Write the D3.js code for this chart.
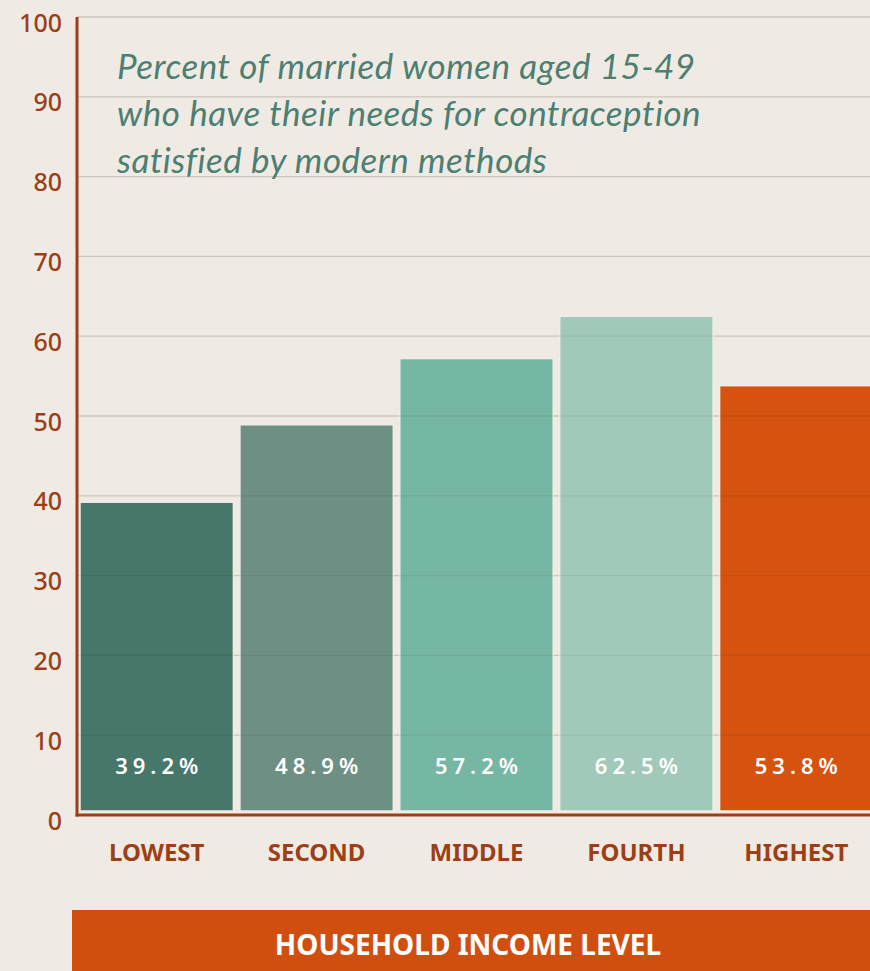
<!DOCTYPE html>
<html>
<head>
<meta charset="utf-8">
<script src="https://cdn.jsdelivr.net/npm/d3@7"></script>
<style>
  html, body { margin: 0; padding: 0; background: #eeeae3; }
  svg { display: block; }
</style>
</head>
<body>
<div id="chart"></div>
<script>
// chart data
var categories = ['LOWEST', 'SECOND', 'MIDDLE', 'FOURTH', 'HIGHEST'];
var values = [39.2, 48.9, 57.2, 62.5, 53.8];
var barColors = ['#46776a', '#6e8f84', '#76b6a4', '#a1c9ba', '#d5520f'];
var yTicks = [0, 10, 20, 30, 40, 50, 60, 70, 80, 90, 100];
var titleLines = ['Percent of married women aged 15-49',
                  'who have their needs for contraception',
                  'satisfied by modern methods'];
var axisTitle = 'HOUSEHOLD INCOME LEVEL';

var width = 870, height = 971;
var brown = '#9c3f17';

var svg = d3.select('#chart').append('svg')
  .attr('width', width)
  .attr('height', height);

svg.append('rect')
  .attr('width', width).attr('height', height)
  .attr('fill', '#efebe4');

var x = d3.scaleBand()
  .domain(categories)
  .range([79, 874])
  .paddingInner(0.028)
  .paddingOuter(0);

var y = d3.scaleLinear()
  .domain([0, 100])
  .range([815, 17]);

// gridlines
svg.append('g')
  .selectAll('line')
  .data(yTicks.filter(function(d) { return d > 0; }))
  .enter().append('line')
  .attr('x1', 77).attr('x2', width)
  .attr('y1', function(d) { return y(d); })
  .attr('y2', function(d) { return y(d); })
  .attr('stroke', '#d9d2c6')
  .attr('stroke-width', 1.3);

// bars
svg.append('g')
  .selectAll('rect')
  .data(values)
  .enter().append('rect')
  .attr('x', function(d, i) { return x(categories[i]) + 1; })
  .attr('y', function(d) { return y(d); })
  .attr('width', x.bandwidth() - 2)
  .attr('height', function(d) { return y(0) - 4 - y(d); })
  .attr('fill', function(d, i) { return barColors[i]; })
  .attr('stroke', '#f1ede6')
  .attr('stroke-width', 1.5);

// gridlines show faintly across bars
svg.append('g')
  .selectAll('line')
  .data(yTicks.filter(function(d) { return d > 0; }))
  .enter().append('line')
  .attr('x1', 77).attr('x2', width)
  .attr('y1', function(d) { return y(d); })
  .attr('y2', function(d) { return y(d); })
  .attr('stroke', '#000')
  .attr('stroke-opacity', 0.06)
  .attr('stroke-width', 1.3);

// value labels
svg.append('g')
  .selectAll('text')
  .data(values)
  .enter().append('text')
  .attr('x', function(d, i) { return x(categories[i]) + x.bandwidth() / 2 + 2.5; })
  .attr('y', 774)
  .attr('text-anchor', 'middle')
  .attr('fill', '#ffffff')
  .style('font-family', '"Noto Sans", sans-serif')
  .style('font-weight', '600')
  .style('font-size', '22px')
  .style('letter-spacing', '5px')
  .text(function(d) { return d.toFixed(1) + '%'; });

// y axis
var yAxis = d3.axisLeft(y).tickValues(yTicks).tickSize(0).tickPadding(15);
var gy = svg.append('g')
  .attr('transform', 'translate(77,0)')
  .call(yAxis);
gy.select('.domain').remove();
gy.selectAll('text')
  .attr('fill', brown)
  .attr('dy', '0.56em')
  .style('font-family', '"Noto Sans", sans-serif')
  .style('font-weight', '500')
  .style('font-size', '25px');

svg.append('line')
  .attr('x1', 77).attr('x2', 77)
  .attr('y1', y(100)).attr('y2', y(0) + 1.5)
  .attr('stroke', brown).attr('stroke-width', 3);
svg.append('line')
  .attr('x1', 75.5).attr('x2', width)
  .attr('y1', y(0)).attr('y2', y(0))
  .attr('stroke', brown).attr('stroke-width', 3);

// category labels
var xAxis = d3.axisBottom(x).tickSize(0).tickPadding(29);
var gx = svg.append('g')
  .attr('transform', 'translate(0,' + y(0) + ')')
  .call(xAxis);
gx.select('.domain').remove();
gx.selectAll('text')
  .attr('fill', brown)
  .style('font-family', '"Liberation Sans Narrow", "Noto Sans", sans-serif')
  .style('font-weight', 'bold')
  .style('font-size', '24px');

// title
svg.append('g')
  .selectAll('text')
  .data(titleLines)
  .enter().append('text')
  .attr('x', 117)
  .attr('y', function(d, i) { return 79 + i * 47; })
  .attr('fill', '#4c7f72')
  .style('font-family', 'Lato, sans-serif')
  .style('font-style', 'italic')
  .style('font-size', '35px')
  .style('letter-spacing', '0.5px')
  .text(function(d) { return d; });

// axis title banner
svg.append('rect')
  .attr('x', 72).attr('y', 910)
  .attr('width', width - 72).attr('height', height - 910)
  .attr('fill', '#d04f10');
svg.append('text')
  .attr('x', 468).attr('y', 955)
  .attr('text-anchor', 'middle')
  .attr('fill', '#ffffff')
  .style('font-family', '"Noto Sans", sans-serif')
  .style('font-weight', 'bold')
  .style('font-size', '28px')
  .text(axisTitle);
</script>
</body>
</html>
